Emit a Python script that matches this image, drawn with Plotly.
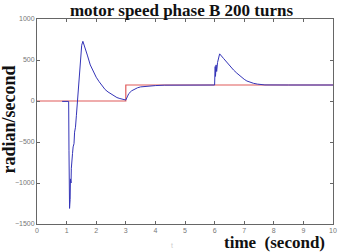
import plotly.graph_objects as go

# reference (step) speed
ref_t = [0, 3.0, 3.0, 10]
ref_speed = [0, 0, 195, 195]

motor_t = [0.85, 1.0, 1.07, 1.08, 1.10, 1.11, 1.12, 1.13, 1.15, 1.16, 1.18, 1.2, 1.22, 1.25, 1.27, 1.3, 1.33, 1.37,
           1.42, 1.47, 1.51, 1.55, 1.6, 1.7, 1.8, 1.9, 2.0, 2.1, 2.2, 2.3, 2.4, 2.5, 2.6, 2.7, 2.8, 2.9, 3.0,
           3.05, 3.1, 3.2, 3.3, 3.4, 3.5, 3.7, 4.0, 4.3, 5.0, 6.0,
           6.01, 6.02, 6.03, 6.05, 6.07, 6.1, 6.17, 6.3, 6.4, 6.5, 6.64, 6.75, 6.87, 7.0,
           7.09, 7.2, 7.32, 7.45, 7.54, 7.7, 8.5, 10]
motor_speed = [-5, -5, -5, -600, -1310, -1150, -1200, -950, -1000, -820, -760, -640, -560, -520, -380, -320, -180, 0,
               280, 520, 680, 728, 680, 560, 440, 360, 290, 235, 180, 140, 110, 85, 60, 42, 30, 22, 12,
               50, 90, 125, 148, 162, 172, 182, 188, 193, 195, 195,
               330, 420, 300, 440, 360, 470, 575, 520, 475, 430, 378, 340, 300, 265,
               244, 228, 215, 206, 200, 196, 195, 195]

x_ticks = list(range(0, 11))
y_ticks = [-1500, -1000, -500, 0, 500, 1000]

fig = go.Figure()
fig.add_trace(go.Scatter(x=ref_t, y=ref_speed, mode="lines",
                         line=dict(color="#e05a5a", width=1.2), showlegend=False))
fig.add_trace(go.Scatter(x=motor_t, y=motor_speed, mode="lines",
                         line=dict(color="#3434b8", width=1.0), showlegend=False))

axis_common = dict(showline=True, linecolor="#666", linewidth=1, mirror="ticks",
                   ticks="inside", ticklen=3, tickcolor="#666", showgrid=False, zeroline=False,
                   tickfont=dict(family="Liberation Sans, Arial", size=7, color="#777"))
fig.update_xaxes(range=[0, 10], tickvals=x_ticks, **axis_common)
fig.update_yaxes(range=[-1500, 1000], tickvals=y_ticks, **axis_common)

fig.update_layout(
    width=358, height=252,
    margin=dict(l=37, r=25, t=19, b=28),
    paper_bgcolor="white", plot_bgcolor="white",
    title=dict(text="<b>motor speed phase B 200 turns</b>", x=0.507, xanchor="center",
               y=0.984, yanchor="top", pad=dict(t=0, b=0),
               font=dict(family="Liberation Serif, Times New Roman", size=17, color="#111")),
    annotations=[
        dict(text="<b>radian/second</b>", xref="paper", yref="paper", x=0, y=0.51, xshift=-28,
             xanchor="center", yanchor="middle", textangle=-90, showarrow=False,
             font=dict(family="Liberation Serif, Times New Roman", size=18, color="#111")),
        dict(text="<b>time  (second)</b>", xref="paper", yref="paper", x=0.98, y=0, yshift=-7,
             xanchor="right", yanchor="top", showarrow=False,
             font=dict(family="Liberation Serif, Times New Roman", size=17, color="#111")),
        dict(text="t", xref="paper", yref="paper", x=0.455, y=0, yshift=-16,
             xanchor="center", yanchor="top", showarrow=False,
             font=dict(family="Liberation Sans, Arial", size=7, color="#ccc")),
    ],
)

fig.write_html("out.html")
